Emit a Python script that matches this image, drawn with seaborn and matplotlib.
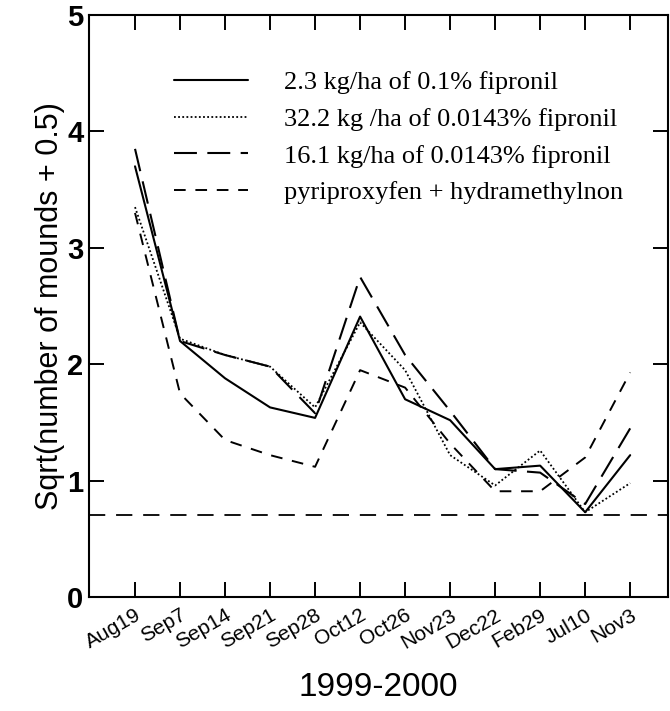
import matplotlib
matplotlib.use("Agg")
import matplotlib.pyplot as plt
import seaborn as sns
import numpy as np
import pandas as pd

dates = ["Aug19", "Sep7", "Sep14", "Sep21", "Sep28", "Oct12", "Oct26",
         "Nov23", "Dec22", "Feb29", "Jul10", "Nov3"]
fip_23 = [3.70, 2.20, 1.88, 1.63, 1.54, 2.41, 1.70, 1.52, 1.10, 1.13, 0.73, 1.22]
fip_322 = [3.35, 2.22, 2.08, 1.98, 1.63, 2.36, 1.95, 1.22, 0.96, 1.26, 0.73, 0.98]
fip_161 = [3.85, 2.20, 2.08, 1.98, 1.58, 2.75, 2.08, 1.60, 1.10, 1.07, 0.80, 1.45]
pyri = [3.30, 1.75, 1.35, 1.22, 1.12, 1.95, 1.80, 1.32, 0.91, 0.91, 1.20, 1.93]
labels = ["2.3 kg/ha of 0.1% fipronil",
          "32.2 kg /ha of 0.0143% fipronil",
          "16.1 kg/ha of 0.0143% fipronil",
          "pyriproxyfen + hydramethylnon"]
zero_level = np.sqrt(0.5)

sns.set_theme(style="ticks")
plt.rcParams["font.family"] = ["Liberation Sans", "DejaVu Sans"]
plt.rcParams["text.color"] = "black"
plt.rcParams["axes.labelcolor"] = "black"
plt.rcParams["xtick.color"] = "black"
plt.rcParams["ytick.color"] = "black"

fig = plt.figure(figsize=(6.7, 7.11), dpi=100)
ax = fig.add_axes([0.133, 0.160, 0.864, 0.819])

x = np.arange(len(dates))
series = [fip_23, fip_322, fip_161, pyri]
styles = ["-", (0, (1, 1.3)), (0, (11, 5)), (0, (6, 5))]
widths = [1.5, 1.3, 1.5, 1.4]
for vals, lab, ls, lw in zip(series, labels, styles, widths):
    sns.lineplot(x=x, y=vals, ax=ax, color="black", linestyle=ls,
                 linewidth=lw, label=lab)

ax.axhline(zero_level, color="black", linestyle=(0, (9, 6)), linewidth=1.3)

ax.set_xlim(-1.02, 11.84)
ax.set_ylim(0, 5)
ax.set_xticks(x)
ax.set_xticklabels(dates, rotation=30, ha="right", rotation_mode="anchor",
                   fontsize=15)
ax.set_yticks([0, 1, 2, 3, 4, 5])
ax.set_yticklabels(["0", "1", "2", "3", "4", "5"], fontsize=21,
                   fontweight="bold")
ax.tick_params(axis="both", direction="in", length=11, width=1.4,
               top=True, right=True, color="black")
ax.tick_params(axis="x", pad=6)
ax.tick_params(axis="y", pad=4)
for s in ax.spines.values():
    s.set_linewidth(1.5)
    s.set_color("black")

ax.set_ylabel("Sqrt(number of mounds + 0.5)", fontsize=22, labelpad=2)
ax.set_xlabel("1999-2000", fontsize=24, labelpad=14)

leg = ax.legend(loc="upper left", bbox_to_anchor=(0.105, 0.945), frameon=False,
                handlelength=2.8, handletextpad=1.4, labelspacing=0.5,
                prop={"family": "Liberation Serif", "size": 19})
for t in leg.get_texts():
    t.set_color("black")

fig.savefig("out.png", dpi=100)
